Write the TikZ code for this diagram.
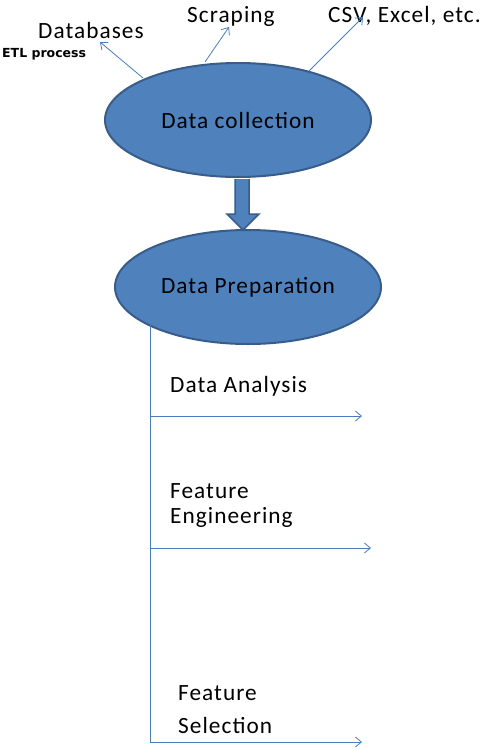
\documentclass[tikz,border=0pt]{standalone}
\usepackage{fontspec}
\setmainfont{Carlito}[LetterSpace=4.5]
\newfontfamily\etlfont{DejaVu Sans}
\usetikzlibrary{shapes.geometric,arrows.meta}
\definecolor{blobfill}{HTML}{4F81BD}
\definecolor{blobedge}{HTML}{385D8A}
\definecolor{thinline}{HTML}{4A7EBB}
\tikzset{
  blob/.style={ellipse, draw=blobedge, line width=2pt, fill=blobfill, minimum width=266pt, minimum height=114pt, inner sep=0pt, font=\fontsize{23.3}{27}\selectfont},
  lbl/.style={inner sep=0pt, font=\fontsize{23.3}{27}\selectfont, text=black, anchor=base west},
  thinarrow/.style={draw=thinline, line width=0.8pt, -{Straight Barb[length=6pt,width=10pt,line width=0.8pt]}},
}
\begin{document}
\begin{tikzpicture}[x=1pt,y=-1pt]
\useasboundingbox (0,0) rectangle (491,750);
% ellipses
\node[blob] (c1) at (238,120) {Data collection};
\node[blob] (c2) at (248,287) {Data Preparation};
% block arrow
\draw[draw=blobedge, fill=blobfill, line width=1.5pt, line join=miter]
  (235,179) -- (235,214) -- (227,214) -- (243,230) -- (259,214) -- (249,214) -- (249,179);
% top labels
\node[lbl] (db) at (38,38) {Databases};
\node[inner sep=0pt, anchor=base west, font=\etlfont\bfseries\fontsize{12.5}{14}\selectfont] (etl) at (2,57) {ETL process};
\node[lbl] (sc) at (187,22) {Scraping};
\node[lbl] (csv) at (328,22) {CSV, Excel, etc.};
\coordinate (a1s) at (143,78);
\coordinate (a1e) at (100,42);
\coordinate (a2s) at (205,62);
\coordinate (a2e) at (229,27);
\coordinate (a3s) at (309,71);
\coordinate (a3e) at (363,17);
\draw[thinarrow] (a1s) -- (a1e);
\draw[thinarrow] (a2s) -- (a2e);
\draw[thinarrow] (a3s) -- (a3e);
% vertical trunk
\coordinate (vtop) at (150,325);
\coordinate (v1) at (150,416);
\coordinate (v2) at (150,548);
\coordinate (v3) at (150,742);
\coordinate (e1) at (362,416);
\coordinate (e2) at (371,548);
\coordinate (e3) at (362,742);
\draw[draw=thinline, line width=0.8pt] (vtop) -- (v3);
\draw[thinarrow] (v1) -- (e1);
\draw[thinarrow] (v2) -- (e2);
\draw[thinarrow] (v3) -- (e3);
% branch labels
\node[lbl] (da) at (170,392) {Data Analysis};
\node[lbl] (fe1) at (170,498) {Feature};
\node[lbl] (fe2) at (170,523) {Engineering};
\node[lbl] (fs1) at (178,700) {Feature};
\node[lbl] (fs2) at (178,733) {Selection};
\end{tikzpicture}
\end{document}
